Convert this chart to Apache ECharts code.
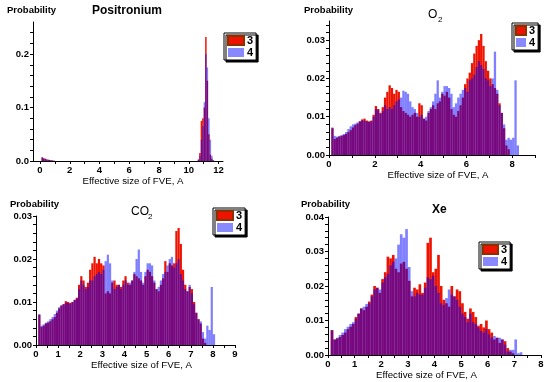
<!DOCTYPE html>
<html><head><meta charset="utf-8">
<script src="https://cdn.jsdelivr.net/npm/echarts@6/dist/echarts.min.js"></script>
<style>html,body{margin:0;padding:0;background:#fff}#c{width:550px;height:382px}</style>
</head><body><div id="c"></div>
<script>
// ---- DATA ----
const seriesNames = ['3', '4'];
const xAxisName = 'Effective size of FVE, A';
const yAxisName = 'Probability';
const panelTitles = ['Positronium', 'O', 'CO', 'Xe']; // O and CO carry a subscript 2

// bin centres (0.1 A bins) shared by O2, CO2 and Xe
const binCenters = [
  0.15,0.25,0.35,0.45,0.55,0.65,0.75,0.85,0.95,1.05,
  1.15,1.25,1.35,1.45,1.55,1.65,1.75,1.85,1.95,2.05,
  2.15,2.25,2.35,2.45,2.55,2.65,2.75,2.85,2.95,3.05,
  3.15,3.25,3.35,3.45,3.55,3.65,3.75,3.85,3.95,4.05,
  4.15,4.25,4.35,4.45,4.55,4.65,4.75,4.85,4.95,5.05,
  5.15,5.25,5.35,5.45,5.55,5.65,5.75,5.85,5.95,6.05,
  6.15,6.25,6.35,6.45,6.55,6.65,6.75,6.85,6.95,7.05,
  7.15,7.25,7.35,7.45,7.55,7.65,7.75,7.85,7.95,8.05,
  8.15,8.25
];

// Positronium
const psBins = [0.15,0.25,0.35,0.45,0.55,0.65,0.75,0.85,0.95,
  10.65,10.75,10.85,10.95,11.05,11.15,11.25,11.35,11.45,11.55,11.65];
const ps3 = [0.0070,0.0050,0.0040,0.0030,0.0025,0.0020,0.0015,0.0010,0.0005,
  0.003,0.015,0.075,0.080,0.100,0.232,0.150,0.050,0.012,0.004,0.001];
const ps4 = [0.0065,0.0050,0.0040,0.0030,0.0025,0.0020,0.0015,0.0010,0.0005,
  0.002,0.010,0.040,0.065,0.110,0.200,0.175,0.080,0.040,0.010,0.002];

// O2
const o23 = [
  .0070,.0042,.0045,.0048,.0050,.0052,.0055,.0060,.0065,.0072,
  .0078,.0082,.0088,.0093,.0095,.0090,.0088,.0090,.0105,.0128,
  .0120,.0110,.0125,.0150,.0165,.0182,.0175,.0160,.0170,.0165,
  .0125,.0115,.0110,.0105,.0100,.0105,.0110,.0100,.0135,.0130,
  .0095,.0090,.0110,.0120,.0130,.0120,.0135,.0140,.0160,.0155,
  .0165,.0150,.0120,.0105,.0100,.0115,.0130,.0150,.0185,.0200,
  .0215,.0240,.0265,.0285,.0300,.0316,.0285,.0245,.0220,.0200,
  .0185,.0175,.0160,.0135,.0110,.0070,.0025,.0015,0,0,
  0,0];
const o24 = [
  .0072,.0050,.0048,.0050,.0052,.0055,.0060,.0068,.0075,.0080,
  .0082,.0085,.0088,.0090,.0090,.0088,.0086,.0088,.0100,.0120,
  .0118,.0108,.0115,.0130,.0120,.0125,.0120,.0130,.0140,.0145,
  .0150,.0168,.0165,.0160,.0140,.0125,.0120,.0110,.0100,.0105,
  .0095,.0100,.0115,.0125,.0140,.0160,.0195,.0150,.0165,.0180,
  .0180,.0175,.0160,.0125,.0135,.0150,.0160,.0170,.0175,.0165,
  .0195,.0200,.0210,.0230,.0245,.0235,.0225,.0200,.0195,.0180,
  .0200,.0270,.0170,.0130,.0110,.0080,.0040,.0045,.0040,.0045,
  .0195,.0025];

// CO2
const co23 = [
  .0070,.0042,.0045,.0050,.0052,.0055,.0060,.0065,.0075,.0085,
  .0092,.0095,.0102,.0100,.0098,.0100,.0105,.0110,.0140,.0160,
  .0150,.0135,.0145,.0175,.0190,.0205,.0190,.0200,.0190,.0185,
  .0120,.0125,.0120,.0145,.0150,.0140,.0140,.0135,.0150,.0160,
  .0145,.0140,.0150,.0165,.0160,.0155,.0150,.0140,.0160,.0175,
  .0170,.0160,.0145,.0130,.0125,.0140,.0155,.0195,.0170,.0190,
  .0185,.0190,.0265,.0272,.0235,.0175,.0140,.0125,.0135,.0130,
  .0100,.0075,.0060,.0050,.0015,.0005,0,0,0,0,
  0,0];
const co24 = [
  .0072,.0045,.0048,.0052,.0055,.0060,.0065,.0072,.0080,.0088,
  .0092,.0095,.0098,.0098,.0096,.0100,.0105,.0108,.0130,.0150,
  .0140,.0130,.0135,.0150,.0150,.0160,.0165,.0170,.0165,.0175,
  .0195,.0210,.0190,.0150,.0130,.0135,.0140,.0130,.0140,.0150,
  .0140,.0145,.0150,.0170,.0200,.0222,.0170,.0145,.0170,.0190,
  .0190,.0185,.0150,.0130,.0135,.0150,.0165,.0170,.0185,.0200,
  .0205,.0180,.0190,.0200,.0165,.0150,.0130,.0125,.0140,.0120,
  .0095,.0075,.0060,.0055,.0030,.0015,.0045,.0035,.0135,.0025,
  0,0];

// Xe
const xe3 = [
  .0072,.0045,.0048,.0052,.0058,.0065,.0075,.0082,.0090,.0110,
  .0120,.0135,.0130,.0140,.0155,.0175,.0200,.0195,.0180,.0220,
  .0240,.0285,.0280,.0290,.0250,.0240,.0265,.0270,.0250,.0215,
  .0170,.0195,.0190,.0205,.0180,.0210,.0325,.0340,.0240,.0250,
  .0290,.0200,.0160,.0150,.0140,.0200,.0170,.0190,.0185,.0150,
  .0125,.0105,.0135,.0125,.0110,.0085,.0090,.0080,.0100,.0075,
  .0065,.0045,.0050,.0035,.0045,.0040,.0020,.0010,.0005,0,
  0,0,0,0,0,0,0,0,0,0,
  0,0];
const xe4 = [
  .0072,.0045,.0050,.0058,.0065,.0075,.0082,.0090,.0095,.0105,
  .0120,.0135,.0140,.0148,.0150,.0170,.0190,.0195,.0190,.0210,
  .0225,.0235,.0260,.0270,.0280,.0320,.0350,.0340,.0365,.0255,
  .0185,.0170,.0180,.0175,.0175,.0195,.0225,.0220,.0230,.0200,
  .0180,.0150,.0145,.0165,.0190,.0175,.0170,.0160,.0140,.0120,
  .0110,.0095,.0120,.0095,.0090,.0080,.0070,.0065,.0075,.0060,
  .0050,.0055,.0050,.0050,.0045,.0030,.0010,.0015,.0015,.0045,
  .0005,.0008,0,0,0,0,0,0,0,0,
  0,0];

// tick labels / tick positions
const psXLabels = [0,2,4,6,8,10,12];
const psXTicks = [0,1,2,3,4,5,6,7,8,9,10,11,12];
const psYLabels = [0,0.1,0.2];
const psYTicks = [0,0.02,0.04,0.06,0.08,0.1,0.12,0.14,0.16,0.18,0.2,0.22,0.24];
const o2XLabels = [0,2,4,6,8];
const o2XTicks = [0,1,2,3,4,5,6,7,8,9];
const o2YLabels = [0,0.01,0.02,0.03];
const o2YTicks = [0,0.002,0.004,0.006,0.008,0.01,0.012,0.014,0.016,0.018,0.02,0.022,0.024,0.026,0.028,0.03,0.032,0.034];
const co2XLabels = [0,1,2,3,4,5,6,7,8,9];
const co2XTicks = [0,0.5,1,1.5,2,2.5,3,3.5,4,4.5,5,5.5,6,6.5,7,7.5,8,8.5,9];
const co2YLabels = [0,0.01,0.02,0.03];
const co2YTicks = [0,0.002,0.004,0.006,0.008,0.01,0.012,0.014,0.016,0.018,0.02,0.022,0.024,0.026,0.028,0.03];
const xeXLabels = [0,1,2,3,4,5,6,7,8];
const xeXTicks = [0,0.5,1,1.5,2,2.5,3,3.5,4,4.5,5,5.5,6,6.5,7,7.5,8];
const xeYLabels = [0,0.01,0.02,0.03,0.04];
const xeYTicks = [0,0.002,0.004,0.006,0.008,0.01,0.012,0.014,0.016,0.018,0.02,0.022,0.024,0.026,0.028,0.03,0.032,0.034,0.036,0.038,0.04];

// ---- CHART ----
const FONT = '"Liberation Sans", Arial, sans-serif';
const RED = '#ee1200';
const BLUE = '#0000ff';

const panels = [
  {grid:{left:33, top:22, width:190, height:139}, xMin:-0.47, xMax:12.3, yMax:0.26,
   xL:psXLabels, xT:psXTicks, yL:psYLabels, yT:psYTicks, dec:1, xs:psBins, a:ps3, b:ps4, namePad:[0,0,0,10], nameGap:15},
  {grid:{left:329, top:21, width:206, height:134}, xMin:0, xMax:9, yMax:0.035,
   xL:o2XLabels, xT:o2XTicks, yL:o2YLabels, yT:o2YTicks, dec:2, xs:binCenters, a:o23, b:o24, namePad:[0,0,0,12], nameGap:13},
  {grid:{left:36, top:216, width:199, height:129}, xMin:0, xMax:9, yMax:0.03,
   xL:co2XLabels, xT:co2XTicks, yL:co2YLabels, yT:co2YTicks, dec:2, xs:binCenters, a:co23, b:co24, namePad:[0,0,0,12], nameGap:13},
  {grid:{left:328, top:217, width:213, height:138}, xMin:0, xMax:8, yMax:0.04,
   xL:xeXLabels, xT:xeXTicks, yL:xeYLabels, yT:xeYTicks, dec:2, xs:binCenters, a:xe3, b:xe4, namePad:[0,16,0,0], nameGap:14}
];

const axisLine = {show:true, onZero:false, lineStyle:{color:'#000', width:1}};
const labelStyle = {color:'#000', fontSize:9.5, fontWeight:'bold', fontFamily:FONT};

const option = {
  animation:false,
  backgroundColor:'#fff',
  grid: panels.map(p => Object.assign({containLabel:false}, p.grid)),
  xAxis: panels.map((p,i) => ({
    type:'value', gridIndex:i, min:p.xMin, max:p.xMax,
    name:xAxisName, nameLocation:'middle', nameGap:p.nameGap,
    nameTextStyle:{color:'#000', fontSize:9.7, fontFamily:FONT, padding:p.namePad},
    axisLine:axisLine,
    axisTick:{show:true, customValues:p.xT, length:3, lineStyle:{color:'#000'}},
    axisLabel:Object.assign({customValues:p.xL, margin:4}, labelStyle),
    splitLine:{show:false}
  })),
  yAxis: panels.map((p,i) => ({
    type:'value', gridIndex:i, min:0, max:p.yMax,
    axisLine:axisLine,
    axisTick:{show:true, customValues:p.yT, length:3, lineStyle:{color:'#000'}},
    axisLabel:Object.assign({customValues:p.yL, margin:4, formatter:v => v.toFixed(p.dec)}, labelStyle),
    splitLine:{show:false}
  })),
  series: [],
  legend: [
    {left:224, top:33, itemWidth:16},
    {left:512, top:23, itemWidth:10},
    {left:213, top:208, itemWidth:16},
    {left:479, top:242, itemWidth:15}
  ].map(l => ({
    left:l.left, top:l.top, orient:'vertical', itemWidth:l.itemWidth, itemHeight:9, itemGap:1,
    padding:[2,3,2,3], backgroundColor:'#fff', borderColor:'#000', borderWidth:1,
    shadowColor:'rgba(0,0,0,1)', shadowBlur:0, shadowOffsetX:2, shadowOffsetY:2,
    selectedMode:false, icon:'rect',
    textStyle:{color:'#000', fontSize:11, fontWeight:'bold', fontFamily:FONT, padding:[0,0,0,-2]},
    data:[
      {name:seriesNames[0], itemStyle:{color:RED, borderColor:'#8c3000', borderWidth:2, opacity:1}},
      {name:seriesNames[1], itemStyle:{color:'#8888ff', opacity:1, borderWidth:0}}
    ]
  })),
  graphic: [
    {type:'text', left:7, top:5, style:{text:yAxisName, fill:'#000', font:'bold 9.5px ' + FONT}},
    {type:'text', left:304, top:5, style:{text:yAxisName, fill:'#000', font:'bold 9.5px ' + FONT}},
    {type:'text', left:10, top:199, style:{text:yAxisName, fill:'#000', font:'bold 9.5px ' + FONT}},
    {type:'text', left:301, top:199, style:{text:yAxisName, fill:'#000', font:'bold 9.5px ' + FONT}},
    {type:'text', left:92, top:5, style:{text:panelTitles[0], fill:'#000', font:'bold 12px ' + FONT}},
    {type:'text', left:428, top:9, style:{text:panelTitles[1], fill:'#000', font:'12px ' + FONT}},
    {type:'text', left:438, top:16, style:{text:'2', fill:'#000', font:'8px ' + FONT}},
    {type:'text', left:131, top:206, style:{text:panelTitles[2], fill:'#000', font:'12px ' + FONT}},
    {type:'text', left:148, top:213, style:{text:'2', fill:'#000', font:'8px ' + FONT}},
    {type:'text', left:432, top:204, style:{text:panelTitles[3], fill:'#000', font:'bold 12px ' + FONT}}
  ]
};

panels.forEach((p,i) => {
  option.series.push({
    type:'bar', name:seriesNames[0], xAxisIndex:i, yAxisIndex:i,
    data:p.xs.map((x,k) => [x, p.a[k]]),
    barGap:'-100%', barCategoryGap:'0%', silent:true,
    itemStyle:{color:RED}
  });
  option.series.push({
    type:'bar', name:seriesNames[1], xAxisIndex:i, yAxisIndex:i,
    data:p.xs.map((x,k) => [x, p.b[k]]),
    barGap:'-100%', barCategoryGap:'0%', silent:true,
    itemStyle:{color:BLUE, opacity:0.5}
  });
});

const chart = echarts.init(document.getElementById('c'), null, {renderer:'canvas'});
chart.setOption(option);
</script></body></html>
